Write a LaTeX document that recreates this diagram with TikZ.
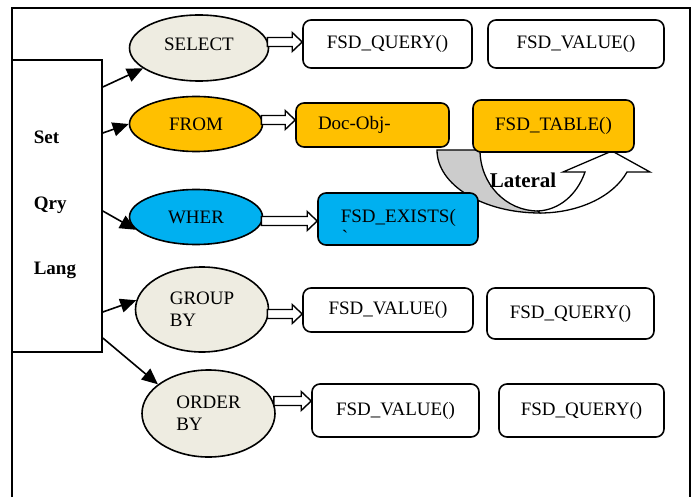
\documentclass[tikz,border=0pt]{standalone}
\usepackage{fontspec}
\setmainfont{Liberation Serif}
\usetikzlibrary{arrows.meta,calc,shapes.geometric}

\definecolor{beige}{HTML}{EEECE1}
\definecolor{amber}{HTML}{FFC000}
\definecolor{sky}{HTML}{00B0F0}
\definecolor{shade}{HTML}{CCCCCC}

% hollow block arrow from one node to the next: #1 source, #2 target, #3 vertical offset
\newcommand\blockarrow[3]{%
  \draw[hollow]
    ($(#1.east |- #2.west)+(-2,#3-4.5)$) -- ($(#2.west)+(-10,#3-4.5)$) --
    ($(#2.west)+(-10,#3-9.5)$) -- ($(#2.west)+(0,#3)$) --
    ($(#2.west)+(-10,#3+9.5)$) -- ($(#2.west)+(-10,#3+4.5)$) --
    ($(#1.east |- #2.west)+(-2,#3+4.5)$) -- cycle;}

\begin{document}
\begin{tikzpicture}[x=1pt,y=-1pt,line width=1.6pt,
  every node/.style={font=\fontsize{19}{22}\selectfont},
  clause/.style={ellipse,draw,inner sep=0pt},
  fbox/.style={draw,rounded corners=8pt,inner sep=0pt,fill=white},
  feed/.style={-{Triangle[length=16pt,width=14pt]}},
  hollow/.style={draw,fill=white,line width=1.4pt},
  tag/.style={anchor=base west,inner xsep=0pt,font=\bfseries\fontsize{19}{22}\selectfont}]
\useasboundingbox (0,0) rectangle (692,497);

% outer frame (open at the bottom)
\draw (12,497) -- (12,8) -- (690,8) -- (690,497);

% curved "lateral" arrow: shaded back part, then white front with head
\draw[fill=shade,line width=1.3pt]
  (437,150) .. controls (437,185) and (483,213) .. (540,213) --
  (538,211) .. controls (506,211) and (480,184) .. (480,150) -- cycle;
\draw[fill=white,line width=1.3pt]
  (540,213) .. controls (578,213) and (613,197) .. (627,172) --
  (650,172) -- (612,151) -- (563,172) -- (585,172)
  .. controls (577,195) and (559,210) .. (538,211) -- cycle;

% language box
\node[draw,fill=white,minimum width=90pt,minimum height=292pt,inner sep=0pt] (lang) at (57,206) {};
\node[tag] (set) at (33,144) {Set};
\node[tag] (qry) at (33,209) {Qry};
\node[tag] (lng) at (33,274) {Lang};

% clauses
\node[clause,fill=beige,minimum width=139pt,minimum height=66pt,text depth=8pt] (sel) at (199,48) {SELECT};
\node[clause,fill=amber,minimum width=133pt,minimum height=55pt] (from) at (196,124) {FROM};
\node[clause,fill=sky,minimum width=133pt,minimum height=55pt] (wher) at (196,217) {WHER};
\node[clause,fill=beige,minimum width=133pt,minimum height=85pt,align=left] (grp) at (202,309.5) {GROUP\\BY};
\node[clause,fill=beige,minimum width=133pt,minimum height=87pt,align=left] (ord) at (208.5,413.5) {ORDER\\BY};

% functions
\node[fbox,minimum width=169pt,minimum height=48pt] (q1) at (387.5,44) {FSD\_QUERY()};
\node[fbox,minimum width=176pt,minimum height=48pt] (v1) at (576,44) {FSD\_VALUE()};
\node[fbox,fill=amber,minimum height=44pt,text width=109pt,inner xsep=22pt,align=left] (doc) at (372.5,125) {Doc-Obj-};
\node[fbox,fill=amber,minimum width=161pt,minimum height=52pt] (tab) at (553.5,126) {FSD\_TABLE()};
\node[fbox,fill=sky,minimum width=160pt,minimum height=52pt] (ex) at (398,219) {};
\node[anchor=base west,inner xsep=0pt] (exlbl) at (340,222) {FSD\_EXISTS(};
\node[anchor=base west,inner xsep=0pt] (exmark) at (341,243) {\textasciigrave};
\node[fbox,minimum width=170pt,minimum height=44pt] (v2) at (388,310) {FSD\_VALUE()};
\node[fbox,minimum width=167pt,minimum height=51pt] (q2) at (570.5,313.5) {FSD\_QUERY()};
\node[fbox,minimum width=167pt,minimum height=53pt] (v3) at (395.5,410.5) {FSD\_VALUE()};
\node[fbox,minimum width=165pt,minimum height=53pt] (q3) at (581.5,410.5) {FSD\_QUERY()};

\node[anchor=base west,inner xsep=0pt,font=\bfseries\fontsize{21}{24}\selectfont] (lat) at (489,187) {Lateral};

% language box to clauses
\draw[feed] (lang.east |- 0,87) -- (sel.200);
\draw[feed] (lang.east |- 0,133) -- (from.west);
\draw[feed] (lang.east |- 0,211) -- (wher.192);
\draw[feed] (lang.east |- 0,312) -- (grp.172);
\draw[feed] (lang.east |- 0,338) -- (ord.150);

% clauses to functions
\blockarrow{sel}{q1}{-2}
\blockarrow{from}{doc}{-5}
\blockarrow{wher}{ex}{2}
\blockarrow{grp}{v2}{4}
\blockarrow{ord}{v3}{-9.5}
\end{tikzpicture}
\end{document}
